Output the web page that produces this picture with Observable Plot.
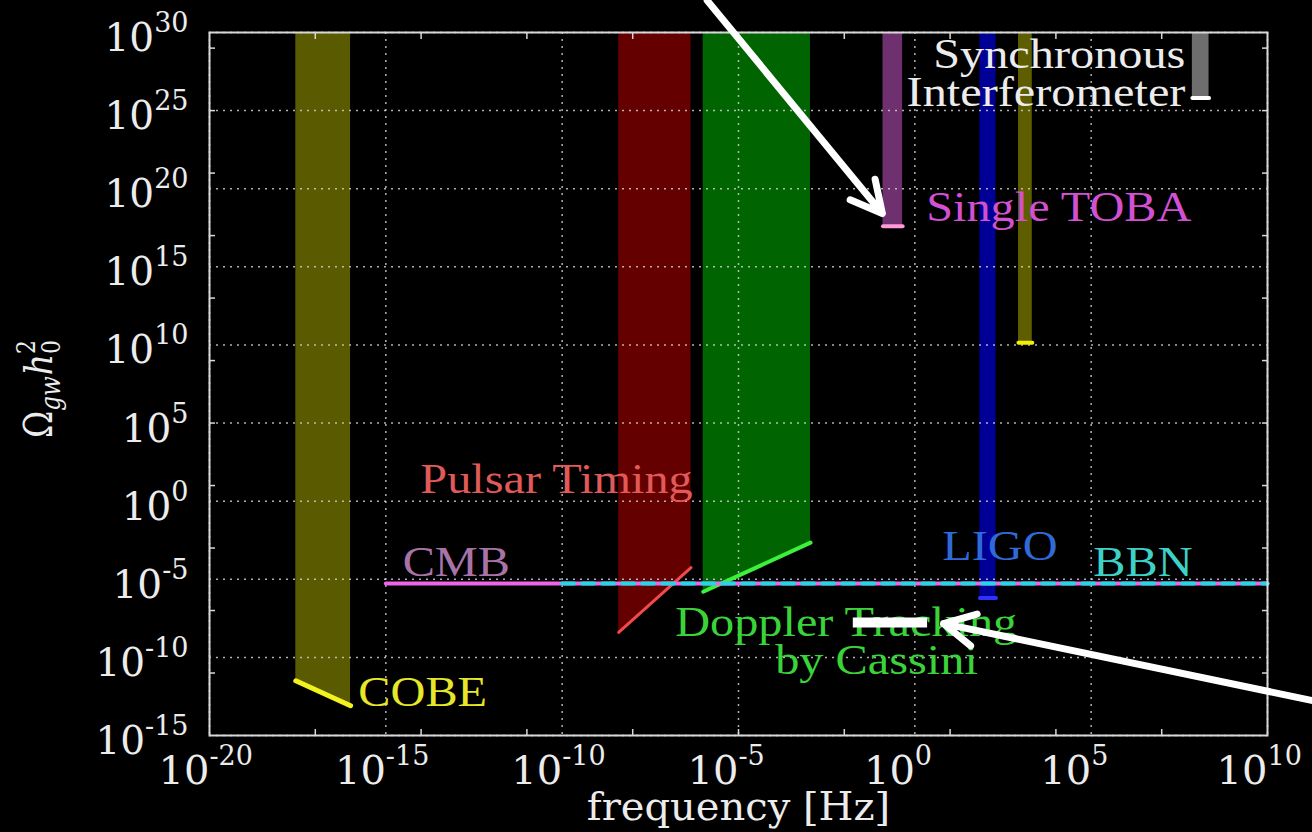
<!DOCTYPE html>
<html><head><meta charset="utf-8">
<script src="https://cdn.jsdelivr.net/npm/d3@7"></script>
<script src="https://cdn.jsdelivr.net/npm/@observablehq/plot@0.6"></script>
<style>
html,body{margin:0;padding:0;background:#000;}
#chart{width:1312px;height:832px;overflow:hidden;background:#000;}
</style>
</head><body><div id="chart"></div>
<script>
// ---------- data ----------
const xDomain = [1e-20, 1e10];
const yDomain = [1e-15, 1e30];
const xTicks = [1e-20, 1e-15, 1e-10, 1e-5, 1e0, 1e5, 1e10];
const yTicks = [1e30, 1e25, 1e20, 1e15, 1e10, 1e5, 1e0, 1e-5, 1e-10, 1e-15];
const xMinorTicks = [1e-17, 1e-14, 1e-11, 1e-8, 1e-5, 1e-2, 1e1, 1e4, 1e7];
const yMinorTicks = [1e29, 1e25, 1e21, 1e17, 1e13, 1e9, 1e5, 1e1, 1e-3, 1e-7, 1e-11];

// sensitivity regions: frequency range and Omega on the lower edge (left / right)
const bandNames      = ["COBE", "Pulsar Timing", "Cassini", "Single TOBA", "LIGO", "Yellow", "Synchronous Interferometer"];
const bandFmin       = [2.8e-18, 4.0e-9, 1.0e-6, 0.125, 70, 870, 7.4e7];
const bandFmax       = [1.0e-16, 4.5e-7, 1.1e-3, 0.45, 200, 2140, 2.2e8];
const bandOmegaLeft  = [3.2e-12, 4.0e-9, 1.6e-6, 4e17, 6.3e-7, 1.4e10, 6.3e25];
const bandOmegaRight = [8.0e-14, 5.6e-5, 2.2e-3, 4e17, 6.3e-7, 1.4e10, 6.3e25];
const bandTop = 1e30;

// CMB and BBN bounds
const cmbF = [1e-15, 1e10];
const cmbOmega = [5.3e-6, 5.3e-6];
const bbnF = [1e-10, 1e10];
const bbnOmega = [5.3e-6, 5.3e-6];

// text labels (anchor frequency, baseline Omega)
const labelText  = ["COBE", "Pulsar Timing", "CMB", "Doppler Tracking", "by Cassini", "LIGO", "BBN", "Single TOBA", "Synchronous", "Interferometer"];
const labelF     = [1.66e-16, 9.5e-15, 3.0e-15, 1.6e-7, 1.1e-4, 6, 1.15e5, 2.1, 4.7e7, 4.7e7];
const labelOmega = [8.1e-14, 3.5, 1.7e-5, 2.5e-9, 9e-12, 1.8e-4, 1.7e-5, 9e17, 5e27, 2.1e25];

// annotation arrows and bar
const arrowStartF = [1.3e-6, 6e11];
const arrowStartOmega = [1.1e32, 1.0e-13];
const arrowEndF = [0.12, 6.5];
const arrowEndOmega = [2.6e18, 1.45e-8];
const barF = [0.018, 2.3];
const barOmega = [1.7e-8];

// ---------- styles ----------
const bandFill = ["#5a5a00", "#640000", "#006400", "#6e306e", "#000096", "#5e5e00", "#6e6e6e"];
const bandLine = ["#f2f21e", "#f04a4a", "#3cf03c", "#ff9ad6", "#3030ff", "#f2f200", "#ffffff"];
const bandLineWidth = [5, 3, 4, 4, 4, 4, 4];
const labelColor = ["#e6e62a", "#e05a5a", "#a874a8", "#3ad43a", "#3ad43a", "#2f6ad8", "#3cd2c8", "#d250d2", "#ececec", "#ececec"];
const labelAnchor = ["start", "start", "start", "start", "start", "start", "start", "start", "end", "end"];

// ---------- build ----------
const rowsOf = i => [
  {f: bandFmin[i], lo: bandOmegaLeft[i], hi: bandTop},
  {f: bandFmax[i], lo: bandOmegaRight[i], hi: bandTop}
];
const pairRows = (F, O) => F.map((f, i) => ({f, o: O[i]}));
const labels = labelText.map((t, i) => ({t, f: labelF[i], o: labelOmega[i], c: labelColor[i], a: labelAnchor[i]}));
const arrows = arrowStartF.map((f, i) => ({x1: f, y1: arrowStartOmega[i], x2: arrowEndF[i], y2: arrowEndOmega[i]}));
const expFmt = d => "10^" + Math.round(Math.log10(d));
const gridStyle = {stroke: "#cfcfcf", strokeOpacity: 0.85, strokeWidth: 1.5, strokeDasharray: "2,5"};
const minorStyle = {stroke: "#d8d8d8", strokeWidth: 1.5, tickSize: -6, tickFormat: () => "", label: null};

const marks = [];
bandNames.forEach((_, i) => marks.push(Plot.areaY(rowsOf(i), {x: "f", y1: "lo", y2: "hi", fill: bandFill[i]})));
marks.push(Plot.gridX(xTicks, gridStyle));
marks.push(Plot.gridY(yTicks, gridStyle));
bandNames.forEach((_, i) => marks.push(Plot.line(rowsOf(i), {x: "f", y: "lo", stroke: bandLine[i], strokeWidth: bandLineWidth[i]})));
marks.push(Plot.line(pairRows(cmbF, cmbOmega), {x: "f", y: "o", stroke: "#f064e6", strokeWidth: 4}));
marks.push(Plot.line(pairRows(bbnF, bbnOmega), {x: "f", y: "o", stroke: "#22d8e8", strokeWidth: 4, strokeDasharray: "12,8"}));
marks.push(Plot.text(labels.filter(d => d.a === "start"), {x: "f", y: "o", text: "t", fill: "c", textAnchor: "start", lineAnchor: "bottom", fontSize: 42, fontFamily: "Liberation Serif"}));
marks.push(Plot.text(labels.filter(d => d.a === "end"), {x: "f", y: "o", text: "t", fill: "c", textAnchor: "end", lineAnchor: "bottom", fontSize: 42, fontFamily: "Liberation Serif"}));
marks.push(Plot.axisX(xMinorTicks, {anchor: "bottom", ...minorStyle}));
marks.push(Plot.axisX(xMinorTicks, {anchor: "top", ...minorStyle}));
marks.push(Plot.axisY(yMinorTicks, {anchor: "left", ...minorStyle}));
marks.push(Plot.axisY(yMinorTicks, {anchor: "right", ...minorStyle}));
marks.push(Plot.axisX(xTicks, {anchor: "bottom", tickSize: 0, tickPadding: 20, tickFormat: expFmt, fontSize: 40, fontFamily: "DejaVu Serif", fill: "#ececec", label: null}));
marks.push(Plot.axisY(yTicks, {anchor: "left", tickSize: 0, tickPadding: 21, dy: 6, tickFormat: expFmt, fontSize: 39, fontFamily: "DejaVu Serif", fill: "#ececec", label: null}));
marks.push(Plot.text(["frequency [Hz]"], {frameAnchor: "bottom", dy: 84, lineAnchor: "bottom", fontSize: 40, fontFamily: "DejaVu Serif", fill: "#ececec"}));
marks.push(Plot.frame({stroke: "#d8d8d8", strokeWidth: 2}));
marks.push(Plot.ruleY(barOmega, {y: d => d, x1: barF[0], x2: barF[1], stroke: "#ffffff", strokeWidth: 10}));
marks.push(Plot.arrow(arrows, {x1: "x1", y1: "y1", x2: "x2", y2: "y2", stroke: "#ffffff", strokeWidth: 7, headLength: 7.5, headAngle: 55}));

const svg = Plot.plot({
  width: 1312, height: 832,
  marginLeft: 209, marginRight: 45, marginTop: 32, marginBottom: 97,
  x: {type: "log", domain: xDomain},
  y: {type: "log", domain: yDomain},
  style: {background: "#000", color: "#ececec", overflow: "visible"},
  marks
});
document.getElementById("chart").appendChild(svg);

// superscript exponents in tick labels
const SVGNS = "http://www.w3.org/2000/svg";
function supTicks(label, isX) {
  svg.querySelectorAll(`g[aria-label="${label}"] text`).forEach(t => {
    const s = t.textContent;
    if (!s.includes("^")) return;
    const [base, exp] = s.split("^");
    t.textContent = base;
    const ts = document.createElementNS(SVGNS, "tspan");
    ts.textContent = exp;
    ts.setAttribute("font-size", 27);
    ts.setAttribute("dy", -19);
    if (isX) {
      t.setAttribute("text-anchor", "end");
      ts.setAttribute("x", t.getAttribute("x") ?? 0);
      ts.setAttribute("text-anchor", "start");
    }
    t.appendChild(ts);
  });
}
supTicks("x-axis tick label", true);
supTicks("y-axis tick label", false);

// horizontal stretch of in-plot labels (matches the reference's wide serif lettering)
svg.querySelectorAll("text").forEach(t => {
  if (!labelText.includes(t.textContent)) return;
  let tr = t.getAttribute("transform") || "";
  const x = t.getAttribute("x");
  if (x !== null && x !== "" && !isNaN(+x)) { tr += ` translate(${x},0)`; t.setAttribute("x", 0); }
  t.setAttribute("transform", tr + " scale(1.15,1)");
});

// y axis title: Omega_gw h_0^2
const yl = d3.select(svg).append("text")
  .attr("transform", "translate(52,389) rotate(-90) scale(1,1.2)")
  .attr("text-anchor", "middle")
  .attr("fill", "#ececec")
  .attr("font-family", "DejaVu Serif")
  .attr("font-size", 33);
yl.append("tspan").text("Ω");
yl.append("tspan").attr("font-style", "italic").attr("font-size", 23).attr("dy", 7).text("gw");
yl.append("tspan").attr("font-style", "italic").attr("dy", -7).attr("dx", 1).text("h");
yl.append("tspan").attr("font-size", 22).attr("dy", 7).text("0");
yl.append("tspan").attr("font-size", 22).attr("dx", -14).attr("dy", -21).text("2");
</script>
</body></html>
